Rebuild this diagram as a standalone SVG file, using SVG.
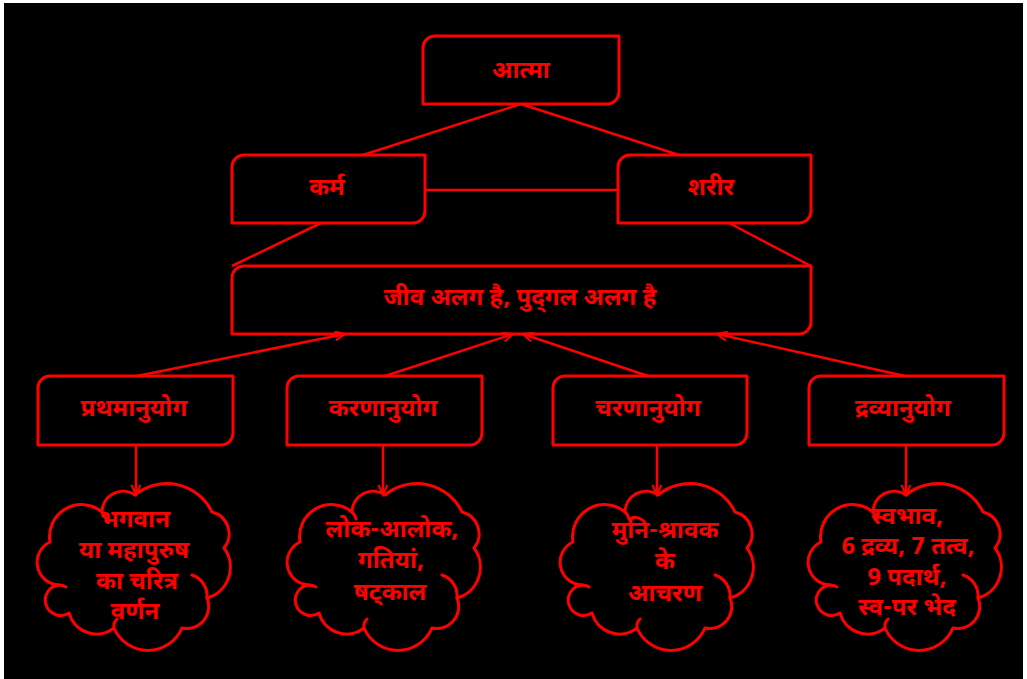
<svg xmlns="http://www.w3.org/2000/svg" width="1027" height="679" viewBox="0 0 1027 679">
<defs>
<style>
.bx{fill:none;stroke:#ff0000;stroke-width:3;stroke-linejoin:round}
.ln{fill:none;stroke:#ff0000;stroke-width:2.5}
.cl{fill:none;stroke:#ff0000;stroke-width:3;stroke-linejoin:round;stroke-linecap:round}
.t{fill:#ff0000;font-family:"Noto Sans Devanagari","Lohit Devanagari","Mangal","Noto Sans","DejaVu Sans",sans-serif;font-weight:bold;font-size:24px;text-anchor:middle;dominant-baseline:central}
</style>
<marker id="ah" markerWidth="14" markerHeight="12" refX="11" refY="5" orient="auto" markerUnits="userSpaceOnUse">
<path d="M1,0.5 L11,5 L1,9.5" fill="none" stroke="#ff0000" stroke-width="2"/>
</marker>
<g id="cloud">
<path class="cl" d="M98,7 A50,50 0 0 1 175,24 A22.5,22.5 0 0 1 187,60 A32,32 0 0 1 170,110 A22,22 0 0 1 145,140 A37,37 0 0 1 77,140 A28.5,28.5 0 0 1 32,125 A15.3,15.3 0 1 1 22,97 A22.6,22.6 0 0 1 13,54 A32,32 0 0 1 65,24 A21,21 0 0 1 98,7 Z"/>
<path class="cl" d="M155,87 A22,22 0 0 1 170,110 M77,140 A10,10 0 0 1 80,131 M65,24 A12,12 0 0 1 69,31 M22,97 A15,15 0 0 1 29,99"/>
</g>
</defs>
<rect x="0" y="0" width="1027" height="679" fill="#ffffff"/>
<rect x="4" y="3" width="1019" height="676" fill="#000000"/>

<g id="connectors">
<line class="ln" x1="521" y1="104" x2="363" y2="155"/>
<line class="ln" x1="521" y1="104" x2="679" y2="155"/>
<line class="ln" x1="425" y1="190" x2="618" y2="190"/>
<line class="ln" x1="321" y1="223" x2="232" y2="266"/>
<line class="ln" x1="729" y1="223" x2="811" y2="266"/>
<line class="ln" x1="137" y1="376" x2="345" y2="334" marker-end="url(#ah)"/>
<line class="ln" x1="385" y1="376" x2="513" y2="334" marker-end="url(#ah)"/>
<line class="ln" x1="648" y1="376" x2="523" y2="334" marker-end="url(#ah)"/>
<line class="ln" x1="905" y1="376" x2="717" y2="334" marker-end="url(#ah)"/>
<line class="ln" x1="136" y1="445" x2="136" y2="495" marker-end="url(#ah)"/>
<line class="ln" x1="383" y1="445" x2="383" y2="495" marker-end="url(#ah)"/>
<line class="ln" x1="657" y1="445" x2="657" y2="495" marker-end="url(#ah)"/>
<line class="ln" x1="906" y1="445" x2="906" y2="495" marker-end="url(#ah)"/>
</g>

<g id="atma">
<path class="bx" d="M435,36 H619 V92 A12,12 0 0 1 607,104 H423 V48 A12,12 0 0 1 435,36 Z"/>
<text class="t" x="521" y="72" font-size="29">आत्मा</text>
</g>
<g id="karma">
<path class="bx" d="M244,155 H425 V211 A12,12 0 0 1 413,223 H232 V167 A12,12 0 0 1 244,155 Z"/>
<text class="t" x="327" y="189" font-size="29">कर्म</text>
</g>
<g id="sharir">
<path class="bx" d="M630,155 H811 V211 A12,12 0 0 1 799,223 H618 V167 A12,12 0 0 1 630,155 Z"/>
<text class="t" x="711" y="189" font-size="29">शरीर</text>
</g>
<g id="jiva">
<path class="bx" d="M244,266 H811 V322 A12,12 0 0 1 799,334 H232 V278 A12,12 0 0 1 244,266 Z"/>
<text class="t" x="520" y="299" font-size="30">जीव अलग है, पुद्‌गल अलग है</text>
</g>
<g id="prathama">
<path class="bx" d="M50,376 H233 V433 A12,12 0 0 1 221,445 H38 V388 A12,12 0 0 1 50,376 Z"/>
<text class="t" x="134" y="410" font-size="27">प्रथमानुयोग</text>
</g>
<g id="karana">
<path class="bx" d="M299,376 H482 V433 A12,12 0 0 1 470,445 H287 V388 A12,12 0 0 1 299,376 Z"/>
<text class="t" x="383" y="410" font-size="27">करणानुयोग</text>
</g>
<g id="charana">
<path class="bx" d="M565,376 H747 V433 A12,12 0 0 1 735,445 H553 V388 A12,12 0 0 1 565,376 Z"/>
<text class="t" x="648" y="410" font-size="27">चरणानुयोग</text>
</g>
<g id="dravya">
<path class="bx" d="M821,376 H1004 V433 A12,12 0 0 1 992,445 H809 V388 A12,12 0 0 1 821,376 Z"/>
<text class="t" x="903" y="410" font-size="27">द्रव्यानुयोग</text>
</g>

<g id="cloud1">
<use href="#cloud" transform="translate(37,488)"/>
<text class="t"><tspan x="135" y="521">भगवान</tspan><tspan x="134" y="552">या महापुरुष</tspan><tspan x="137" y="583">का चरित्र</tspan><tspan x="135" y="613">वर्णन</tspan></text>
</g>
<g id="cloud2">
<use href="#cloud" transform="translate(287,488)"/>
<text class="t"><tspan x="392" y="531">लोक-आलोक,</tspan><tspan x="391" y="562">गतियां,</tspan><tspan x="390" y="594">षट्काल</tspan></text>
</g>
<g id="cloud3">
<use href="#cloud" transform="translate(560,488)"/>
<text class="t"><tspan x="665" y="532">मुनि-श्रावक</tspan><tspan x="665" y="563">के</tspan><tspan x="665" y="595">आचरण</tspan></text>
</g>
<g id="cloud4">
<use href="#cloud" transform="translate(808,488)"/>
<text class="t"><tspan x="907" y="518">स्वभाव,</tspan><tspan x="908" y="548">6 द्रव्य, 7 तत्व,</tspan><tspan x="907" y="579">9 पदार्थ,</tspan><tspan x="907" y="609">स्व-पर भेद</tspan></text>
</g>
</svg>
